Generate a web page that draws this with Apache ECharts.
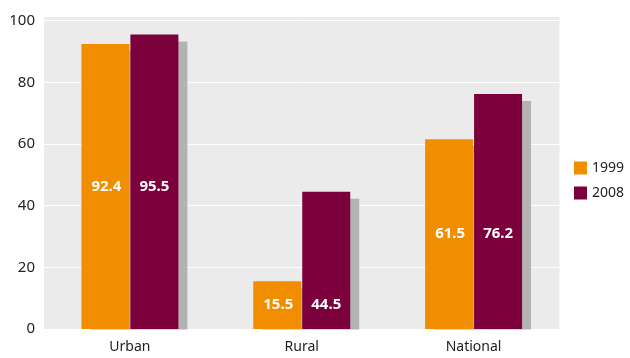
<!DOCTYPE html>
<html><head><meta charset="utf-8">
<script src="https://cdn.jsdelivr.net/npm/echarts@6/dist/echarts.min.js"></script>
<style>html,body{margin:0;padding:0;background:#fff}#c{width:630px;height:358px}</style>
</head><body><div id="c"></div>
<script>
const categories = ['Urban', 'Rural', 'National'];
const s1999 = [92.4, 15.5, 61.5];
const s2008 = [95.5, 44.5, 76.2];
const yTicks = [0, 20, 40, 60, 80, 100];

const chart = echarts.init(document.getElementById('c'), null, {renderer: 'canvas'});
const FONT = 'Noto Sans';
const barStyle = (c) => ({color: c, borderWidth: 0, shadowColor: '#b3b3b3', shadowBlur: 0, shadowOffsetX: 9, shadowOffsetY: 7});
const tok = {color: '#fff', fontFamily: FONT, fontSize: 15, fontWeight: 'bold', width: 48, align: 'center'};

chart.setOption({
  animation: false,
  textStyle: {fontFamily: FONT},
  grid: {left: 44, right: 70.5, top: 16, bottom: 29, show: true, backgroundColor: '#ebebeb', borderWidth: 0},
  legend: {
    orient: 'vertical', left: 574, top: 161, padding: 0, itemWidth: 13, itemHeight: 13, itemGap: 11,
    icon: 'rect', textStyle: {fontFamily: FONT, fontSize: 14, color: '#222'},
    data: ['1999', '2008']
  },
  xAxis: {
    type: 'category', data: categories,
    axisLine: {show: false}, axisTick: {show: false},
    axisLabel: {color: '#222', fontSize: 14, fontFamily: FONT, margin: 11}
  },
  yAxis: {
    type: 'value', min: 0, max: 101.5, interval: 20,
    axisLine: {show: false}, axisTick: {show: false},
    axisLabel: {color: '#222', fontSize: 15, fontFamily: FONT, margin: 9,
      formatter: v => yTicks.indexOf(v) >= 0 ? String(v) : ''},
    splitLine: {lineStyle: {color: '#fff', width: 1}}
  },
  graphic: [{type: 'rect', z: 100, shape: {x: 40, y: 329.5, width: 590, height: 8}, style: {fill: '#fff'}}],
  series: [
    {name: '1999', type: 'bar', data: s1999, barWidth: 48, barGap: '2%', itemStyle: barStyle('#f18e00'),
      label: {show: true, position: 'inside', offset: [25, 0],
        formatter: p => '{a|' + s1999[p.dataIndex].toFixed(1) + '}{b|' + s2008[p.dataIndex].toFixed(1) + '}',
        rich: {a: tok, b: tok}}},
    {name: '2008', type: 'bar', data: s2008, barWidth: 48, barGap: '2%', itemStyle: barStyle('#7b003c')}
  ]
});
</script></body></html>
